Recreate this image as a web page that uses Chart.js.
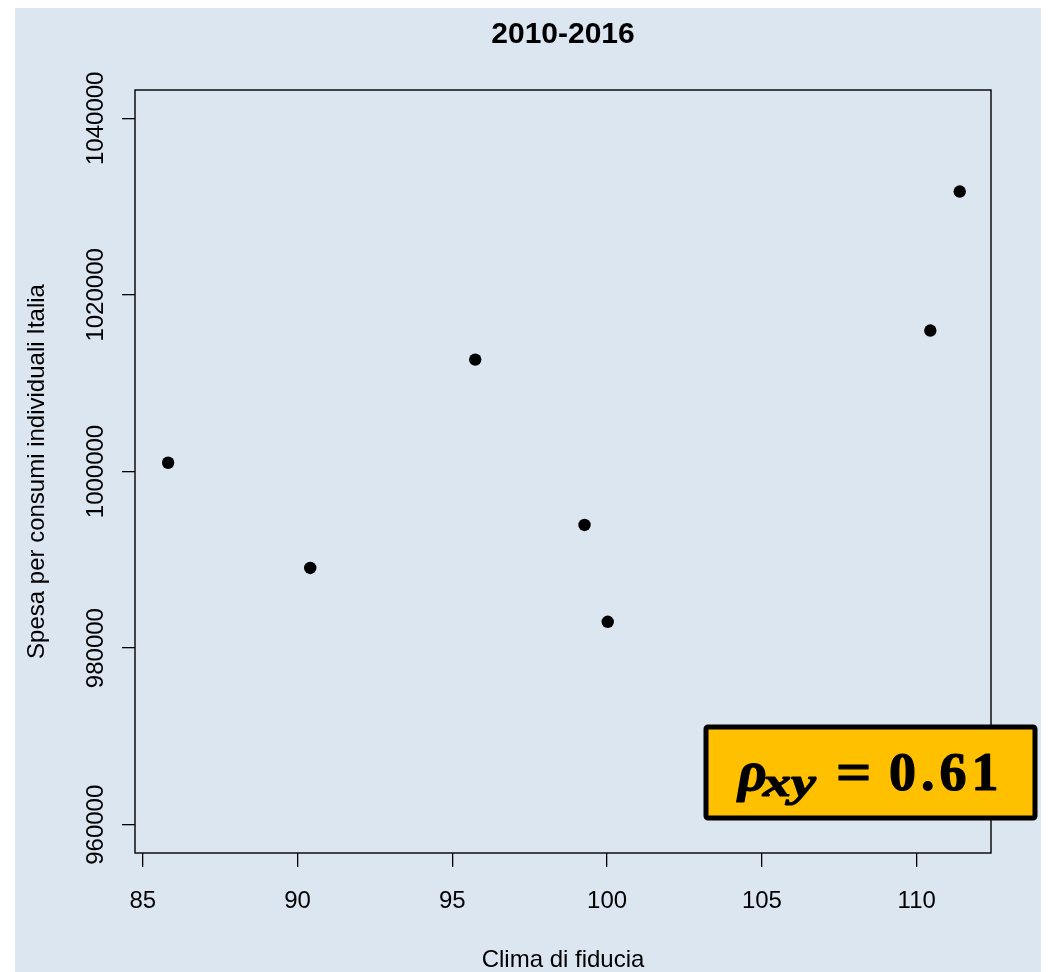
<!DOCTYPE html>
<html>
<head>
<meta charset="utf-8">
<title>2010-2016</title>
<script src="https://cdn.jsdelivr.net/npm/chart.js@4.4.1/dist/chart.umd.min.js"></script>
<style>
  html, body { margin: 0; padding: 0; background: #ffffff; }
  canvas { display: block; }
</style>
</head>
<body>
<canvas id="c" width="1048" height="972"></canvas>
<script>
// Clima di fiducia dei consumatori (x) vs spesa per consumi individuali (y), 2010-2016
const clima = [85.82, 90.41, 95.74, 99.27, 100.02, 110.44, 111.39];
const spesa = [1000990, 989080, 1012670, 993950, 982980, 1015960, 1031700];
const xTicks = [85, 90, 95, 100, 105, 110];
const yTicks = [960000, 980000, 1000000, 1020000, 1040000];
const titleText = '2010-2016';
const xTitle = 'Clima di fiducia';
const yTitle = 'Spesa per consumi individuali Italia';
const rhoValue = '0.61';

const FONT = '"Liberation Sans", Arial, Helvetica, sans-serif';
const SERIF = '"Liberation Serif", "Times New Roman", serif';

const points = clima.map((v, i) => ({ x: v, y: spesa[i] }));

// draws a text run with a thin outline so it reads as heavy math type
function heavyText(ctx, text, x, y, sx) {
  ctx.save();
  ctx.translate(x, y);
  ctx.scale(sx, 1);
  ctx.lineWidth = 1.2;
  ctx.strokeStyle = '#000';
  ctx.fillText(text, 0, 0);
  ctx.strokeText(text, 0, 0);
  ctx.restore();
}

const decor = {
  id: 'decor',
  beforeDraw(chart) {
    const ctx = chart.ctx;
    ctx.save();
    ctx.fillStyle = '#dce6f1';
    ctx.fillRect(15, 8, 1026, 964);
    ctx.restore();
  },
  afterDraw(chart) {
    const ctx = chart.ctx;
    const a = chart.chartArea;
    const xs = chart.scales.x, ys = chart.scales.y;
    ctx.save();
    // plot box
    ctx.strokeStyle = '#000';
    ctx.lineWidth = 1.4;
    ctx.strokeRect(a.left, a.top, a.right - a.left, a.bottom - a.top);

    ctx.fillStyle = '#000';
    // title
    ctx.font = 'bold 30px ' + FONT;
    ctx.textAlign = 'center';
    ctx.textBaseline = 'alphabetic';
    ctx.fillText(titleText, (a.left + a.right) / 2, 43);

    // x tick labels
    ctx.font = '24px ' + FONT;
    xTicks.forEach(v => {
      ctx.fillText(String(v), xs.getPixelForValue(v), 908);
    });
    // x axis title
    ctx.fillText(xTitle, (a.left + a.right) / 2, 967);

    // y tick labels (vertical)
    yTicks.forEach(v => {
      const py = ys.getPixelForValue(v);
      ctx.save();
      ctx.translate(103, py);
      ctx.rotate(-Math.PI / 2);
      ctx.textAlign = 'center';
      ctx.fillText(String(v), 0, 0);
      ctx.restore();
    });
    // y axis title
    ctx.save();
    ctx.translate(44, (a.top + a.bottom) / 2);
    ctx.rotate(-Math.PI / 2);
    ctx.textAlign = 'center';
    ctx.fillText(yTitle, 0, 0);
    ctx.restore();

    // correlation badge
    const bx = 706, by = 727, bw = 329, bh = 91;
    ctx.fillStyle = '#ffc000';
    ctx.strokeStyle = '#000';
    ctx.lineWidth = 5;
    ctx.lineJoin = 'round';
    ctx.beginPath();
    ctx.roundRect(bx, by, bw, bh, 2);
    ctx.fill();
    ctx.stroke();

    ctx.fillStyle = '#000';
    ctx.textAlign = 'left';
    ctx.font = 'italic bold 56px ' + SERIF;
    heavyText(ctx, '\u03C1', 738, 790, 1.0);
    ctx.font = 'italic bold 40px ' + SERIF;
    heavyText(ctx, 'xy', 763, 796, 1.4);
    ctx.font = 'bold 54px ' + SERIF;
    heavyText(ctx, '=', 836, 790, 1.15);
    ctx.letterSpacing = '5px';
    heavyText(ctx, rhoValue, 889, 790, 1.0);
    ctx.restore();
  }
};

new Chart(document.getElementById('c'), {
  type: 'scatter',
  data: {
    datasets: [{
      data: points,
      backgroundColor: '#000',
      borderColor: '#000',
      pointRadius: 6.2,
      pointHoverRadius: 6.2,
      borderWidth: 0
    }]
  },
  options: {
    responsive: false,
    animation: false,
    devicePixelRatio: 1,
    layout: { padding: { top: 90, right: 57, left: 0, bottom: 0 } },
    plugins: {
      legend: { display: false },
      title: { display: false },
      tooltip: { enabled: false }
    },
    scales: {
      x: {
        type: 'linear',
        min: 84.75,
        max: 112.4,
        afterFit(s) { s.height = 119; },
        afterBuildTicks(s) { s.ticks = xTicks.map(v => ({ value: v })); },
        ticks: { display: false },
        border: { display: false },
        grid: { drawOnChartArea: false, drawTicks: true, tickLength: 14, color: '#000', lineWidth: 1.3 }
      },
      y: {
        type: 'linear',
        min: 956800,
        max: 1043200,
        afterFit(s) { s.width = 135; },
        afterBuildTicks(s) { s.ticks = yTicks.map(v => ({ value: v })); },
        ticks: { display: false },
        border: { display: false },
        grid: { drawOnChartArea: false, drawTicks: true, tickLength: 13, color: '#000', lineWidth: 1.3 }
      }
    }
  },
  plugins: [decor]
});
</script>
</body>
</html>
